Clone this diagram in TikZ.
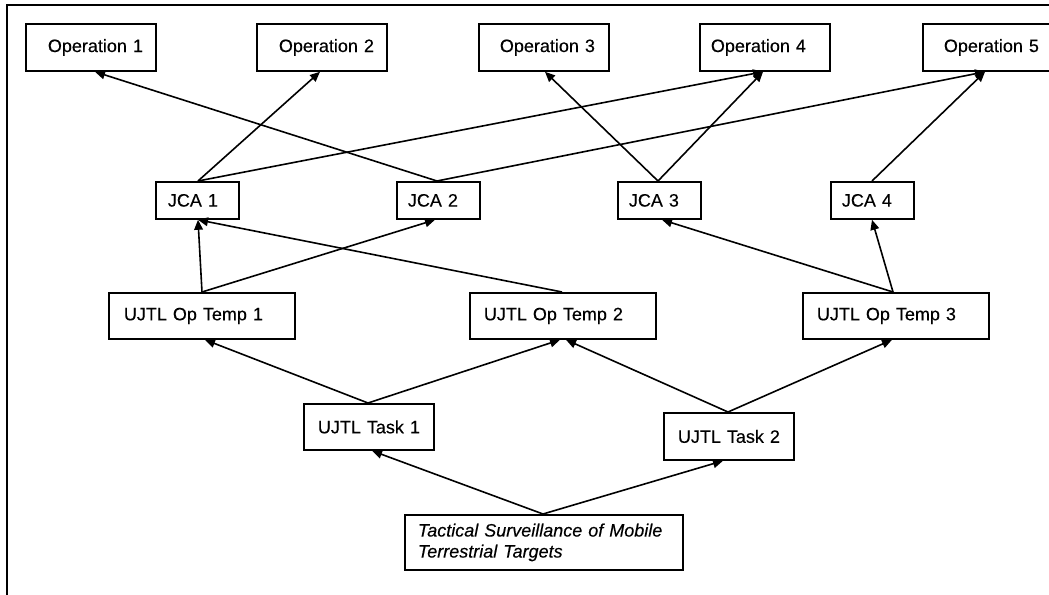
\documentclass[tikz,border=0pt]{standalone}
\usepackage{fontspec}
\setmainfont{Liberation Sans}[FakeBold=0.25]
\usetikzlibrary{arrows.meta,calc}
\newcommand\padl[1]{\hspace*{#1pt}}
\begin{document}
\begin{tikzpicture}[x=0.75pt,y=-0.75pt,
  bx/.style={draw, line width=1.35pt, anchor=north west, inner xsep=0pt, inner ysep=0pt, align=left, font=\fontsize{13.5}{15.75}\selectfont},
  op/.style={bx, text width=97.5pt, minimum height=35.25pt},
  jca/.style={bx, text width=62.25pt, minimum height=27.75pt},
  tmp/.style={bx, text width=139.5pt, minimum height=34.5pt},
  tsk/.style={bx, text width=97.5pt, minimum height=34.5pt},
  link/.style={line width=1.2pt, -{Triangle[length=7.5pt,width=6.5pt]}}
]
\useasboundingbox (0,0) rectangle (1049,595);
\draw[line width=1.35pt] (7,600) -- (7,5) -- (1055,5);

% Operations
\node[op] (op1) at (25,23)  {\padl{16.5}Operation 1};
\node[op] (op2) at (256,23) {\padl{16.5}Operation 2};
\node[op] (op3) at (478,23) {\padl{15.75}Operation 3};
\node[op] (op4) at (699,23) {\padl{8.25}Operation 4};
\node[op] (op5) at (922,23) {\padl{15.75}Operation 5};

% JCAs
\node[jca] (jca1) at (155,181) {\padl{9}JCA 1};
\node[jca] (jca2) at (396,181) {\padl{8.25}JCA 2};
\node[jca] (jca3) at (617,181) {\padl{8.25}JCA 3};
\node[jca] (jca4) at (830,181) {\padl{8.25}JCA 4};

% UJTL Op Temps
\node[tmp] (tmp1) at (108,292) {\padl{11.25}UJTL Op Temp 1};
\node[tmp] (tmp2) at (469,292) {\padl{10.5}UJTL Op Temp 2};
\node[tmp] (tmp3) at (802,292) {\padl{10.5}UJTL Op Temp 3};

% UJTL Tasks
\node[tsk] (tsk1) at (303,403) {\padl{10.5}UJTL Task 1};
\node[tsk, minimum height=35.25pt] (tsk2) at (663,412) {\padl{10.5}UJTL Task 2};

% Root
\node[bx, text width=208.5pt, minimum height=41.25pt, font=\fontsize{13.5}{15.75}\selectfont\itshape] (tact) at (404,514)
  {\padl{9.75}Tactical Surveillance of Mobile\\\padl{9.75}Terrestrial Targets};

% JCA -> Operations
\draw[link] ($(jca1.north west)+(43,0)$) -- ($(op2.south west)+(64,0)$);
\draw[link] ($(jca1.north west)+(43,0)$) -- ($(op4.south west)+(64,0)$);
\draw[link] ($(jca2.north west)+(41,0)$) -- ($(op1.south west)+(70,0)$);
\draw[link] ($(jca2.north west)+(41,0)$) -- ($(op5.south west)+(63,0)$);
\draw[link] ($(jca3.north west)+(41,0)$) -- ($(op3.south west)+(67,0)$);
\draw[link] ($(jca3.north west)+(41,0)$) -- ($(op4.south west)+(64,0)$);
\draw[link] ($(jca4.north west)+(42,0)$) -- ($(op5.south west)+(63,0)$);

% Op Temps -> JCA
\draw[link] ($(tmp1.north west)+(94,0)$) -- ($(jca1.south west)+(43,0)$);
\draw[link] ($(tmp1.north west)+(94,0)$) -- ($(jca2.south west)+(39,0)$);
\draw[link] ($(tmp2.north west)+(93,0)$) -- ($(jca1.south west)+(43,0)$);
\draw[link] ($(tmp3.north west)+(91,0)$) -- ($(jca3.south west)+(45,0)$);
\draw[link] ($(tmp3.north west)+(91,0)$) -- ($(jca4.south west)+(42,0)$);

% Tasks -> Op Temps
\draw[link] ($(tsk1.north west)+(65,0)$) -- ($(tmp1.south west)+(97,0)$);
\draw[link] ($(tsk1.north west)+(65,0)$) -- ($(tmp2.south west)+(91,0)$);
\draw[link] ($(tsk2.north west)+(65,0)$) -- ($(tmp2.south west)+(97,0)$);
\draw[link] ($(tsk2.north west)+(65,0)$) -- ($(tmp3.south west)+(90,0)$);

% Root -> Tasks
\draw[link] ($(tact.north west)+(139,0)$) -- ($(tsk1.south west)+(69,0)$);
\draw[link] ($(tact.north west)+(139,0)$) -- ($(tsk2.south west)+(60,0)$);
\end{tikzpicture}
\end{document}
